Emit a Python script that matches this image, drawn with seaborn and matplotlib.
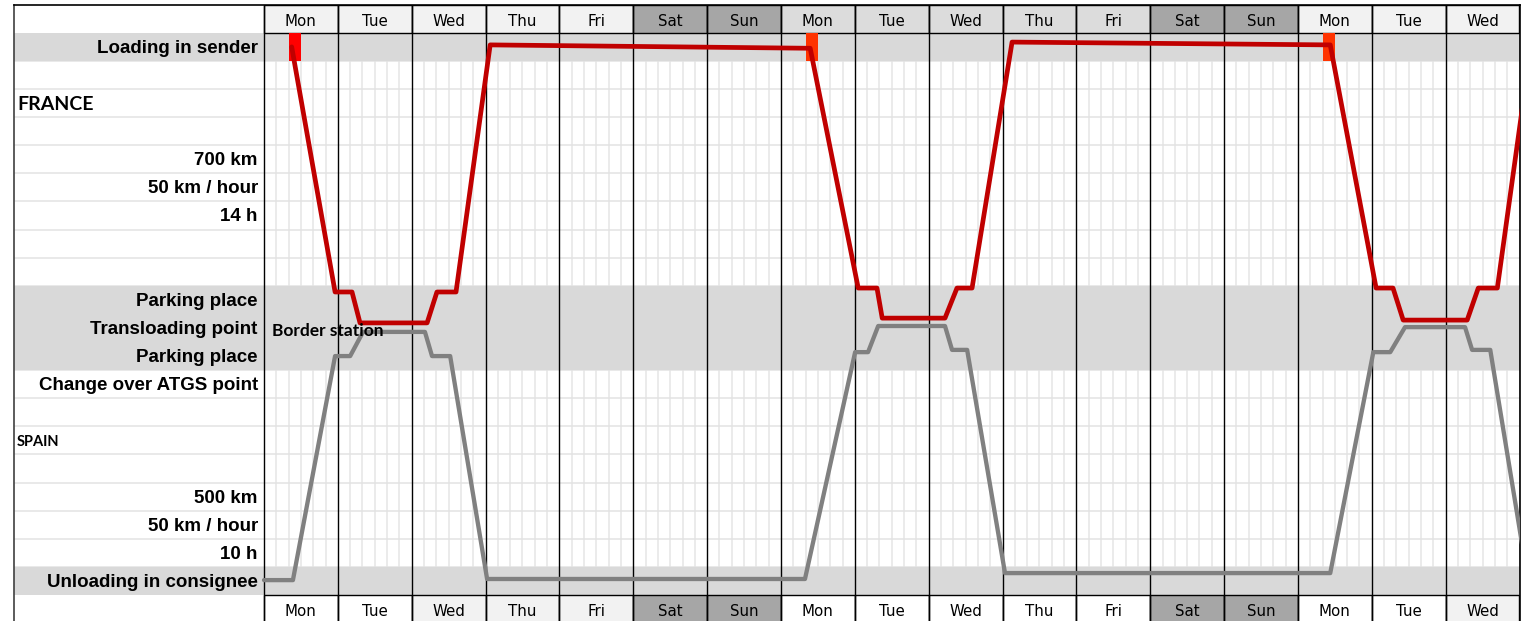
import numpy as np
import pandas as pd
import seaborn as sns
import matplotlib
matplotlib.use("Agg")
import matplotlib.pyplot as plt
from matplotlib.patches import Rectangle

# --- data ------------------------------------------------------------------
days = ["Mon", "Tue", "Wed", "Thu", "Fri", "Sat", "Sun",
        "Mon", "Tue", "Wed", "Thu", "Fri", "Sat", "Sun",
        "Mon", "Tue", "Wed"]
top_colors = (["#f2f2f2"] * 5 + ["#a6a6a6"] * 2 + ["#dcdcdc"] * 5
              + ["#a6a6a6"] * 2 + ["#f2f2f2"] * 3)
bottom_colors = (["#ffffff"] * 2 + ["#f2f2f2"] * 3 + ["#a6a6a6"] * 2
                 + ["#ffffff"] * 5 + ["#a6a6a6"] * 2
                 + ["#ffffff"] * 2 + ["#f2f2f2"])

# rows are counted from the top (row 0 = day header)
label_rows = [1, 5, 6, 7, 10, 11, 12, 13, 17, 18, 19, 20]
label_texts = ["Loading in sender", "700 km", "50 km / hour", "14 h",
               "Parking place", "Transloading point", "Parking place",
               "Change over ATGS point", "500 km", "50 km / hour", "10 h",
               "Unloading in consignee"]
country_rows = [3, 15]
country_texts = ["FRANCE", "SPAIN"]
country_sizes = [14, 10.5]

band_start = [1, 10, 20]
band_height = [1, 3, 1]

loading_start = [8, 176, 344]      # hours from first Monday 00:00
loading_colors = ["#ff0000", "#ff3300", "#ff3300"]

# train paths: hours vs row position
red_hours = [9, 23.1, 28.6, 31.2, 53.0, 56.2, 62.4, 73.5, 177.5, 193.1,
             199.2, 200.9, 221.3, 225.2, 230.1, 243.1, 346.5, 361.4, 366.9,
             370.2, 391.0, 394.6, 400.8, 411.8]
red_rows = [1.50, 10.22, 10.22, 11.32, 11.32, 10.22, 10.22, 1.43, 1.55,
            10.08, 10.08, 11.15, 11.15, 10.08, 10.08, 1.33, 1.43, 10.08,
            10.08, 11.22, 11.22, 10.08, 10.08, 1.4]
grey_hours = [0, 9.4, 23.1, 28.0, 32.2, 52.3, 54.6, 60.5, 72.5, 175.8,
              192.1, 196.3, 199.6, 221.3, 223.6, 228.5, 240.8, 346.5, 360.5,
              366.0, 370.8, 390.3, 392.6, 398.5, 410.5]
grey_rows = [20.47, 20.47, 12.5, 12.5, 11.64, 11.64, 12.5, 12.5, 20.43,
             20.43, 12.36, 12.36, 11.43, 11.43, 12.28, 12.28, 20.22, 20.22,
             12.36, 12.36, 11.47, 11.47, 12.28, 12.28, 20.3]

# --- figure ------------------------------------------------------------------
sns.set_style("white")
plt.rcParams["text.color"] = "black"
W, H = 1524, 621
fig = plt.figure(figsize=(W / 100, H / 100), dpi=100)
left_px, right_px, top_px = 14, 1519.5, 4.7
ax = fig.add_axes([left_px / W, 0, (right_px - left_px) / W, (H - top_px) / H])

n_days = len(days)
x_end = n_days * 24
px_per_hour = (right_px - 264) / x_end
x_min = -(264 - left_px) / px_per_hour
y_max = (H - top_px) / 28.11

# light cell grid
sub_x = [h for h in range(4, x_end, 4) if h % 24]
ax.vlines(sub_x, 1, 21, color="#e6e6e6", lw=1.1, zorder=1)
ax.hlines(range(2, 21), x_min, x_end, color="#e3e3e3", lw=1.1, zorder=1)

# grey bands
for s, h in zip(band_start, band_height):
    ax.axhspan(s, s + h, color="#d9d9d9", lw=0, zorder=2)

# day header cells
for i, (d, ct, cb) in enumerate(zip(days, top_colors, bottom_colors)):
    ax.add_patch(Rectangle((i * 24, 0), 24, 1, facecolor=ct,
                           edgecolor="black", lw=1, zorder=3))
    ax.add_patch(Rectangle((i * 24, 21), 24, 1, facecolor=cb,
                           edgecolor="black", lw=1, zorder=3))
    ax.text(i * 24 + 12, 0.58, d, ha="center", va="center", fontsize=10.8,
            family="DejaVu Sans", color="black", zorder=8)
    ax.text(i * 24 + 12, 21.58, d, ha="center", va="center", fontsize=10.8,
            family="DejaVu Sans", color="black", zorder=8)

# day boundaries
ax.vlines(range(0, x_end + 1, 24), 0, y_max, color="black", lw=1, zorder=4)

# loading slots
for s, c in zip(loading_start, loading_colors):
    ax.add_patch(Rectangle((s, 1), 4, 1, facecolor=c, lw=0, zorder=5))

# train paths
red = pd.DataFrame({"hour": red_hours, "row": red_rows})
grey = pd.DataFrame({"hour": grey_hours, "row": grey_rows})
sns.lineplot(data=grey, x="hour", y="row", sort=False, color="#808080",
             lw=3.1, ax=ax, zorder=6)
sns.lineplot(data=red, x="hour", y="row", sort=False, color="#c00000",
             lw=3.4, ax=ax, zorder=6)

# row labels
for r, t in zip(label_rows, label_texts):
    ax.text(-2, r + 0.55, t, ha="right", va="center", fontsize=13.5,
            fontweight="bold", family="Liberation Sans", color="black",
            zorder=8)
for r, t, s in zip(country_rows, country_texts, country_sizes):
    ax.text(x_min + 1, r + 0.55, t, ha="left", va="center", fontsize=s,
            fontweight="bold", family="Lato", color="black", zorder=8)
ax.text(2.6, 11.6, "Border station", ha="left", va="center", fontsize=12.5,
        fontweight="bold", family="Lato", color="black", zorder=8)

ax.set_xlim(x_min, x_end)
ax.set_ylim(y_max, 0)
ax.set_xticks([])
ax.set_yticks([])
ax.set_xlabel("")
ax.set_ylabel("")
for side in ["top", "right", "left"]:
    ax.spines[side].set_visible(True)
    ax.spines[side].set_color("black")
    ax.spines[side].set_linewidth(1.2)
ax.spines["left"].set_color("#404040")
ax.spines["bottom"].set_visible(False)

fig.savefig("out.png", dpi=100)
